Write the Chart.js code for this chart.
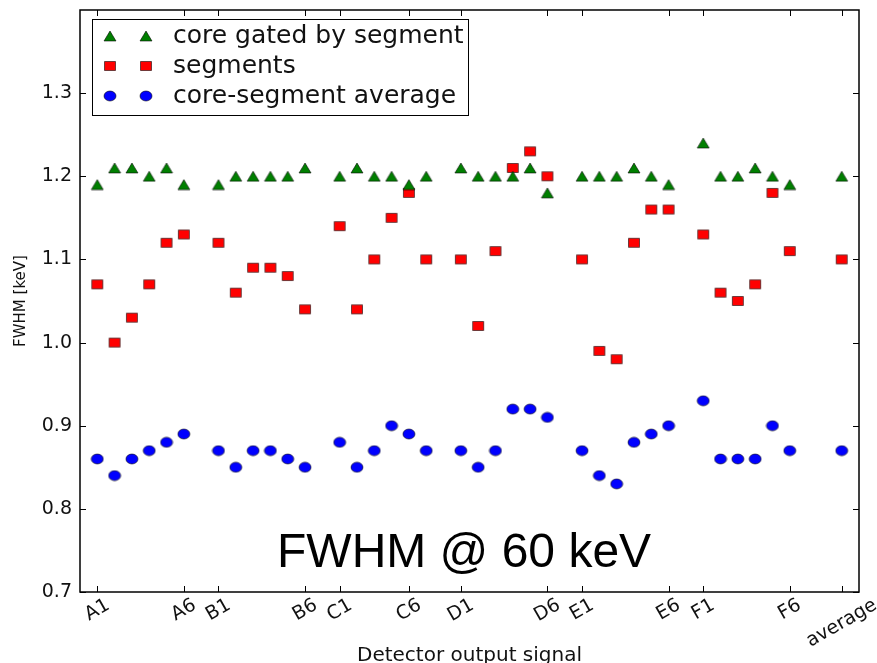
<!DOCTYPE html>
<html>
<head>
<meta charset="utf-8">
<title>FWHM @ 60 keV</title>
<script src="https://cdn.jsdelivr.net/npm/chart.js@4/dist/chart.umd.min.js"></script>
<style>
  html, body { margin: 0; padding: 0; background: #fff; }
  canvas { display: block; }
</style>
</head>
<body>
<canvas id="fwhmChart" width="877" height="663"></canvas>
<script>
// detector channels and where they sit on the x axis
const channels = [
  'A1','A2','A3','A4','A5','A6',
  'B1','B2','B3','B4','B5','B6',
  'C1','C2','C3','C4','C5','C6',
  'D1','D2','D3','D4','D5','D6',
  'E1','E2','E3','E4','E5','E6',
  'F1','F2','F3','F4','F5','F6',
  'average'
]
const channelPos = [
  1, 2, 3, 4, 5, 6,
  8, 9, 10, 11, 12, 13,
  15, 16, 17, 18, 19, 20,
  22, 23, 24, 25, 26, 27,
  29, 30, 31, 32, 33, 34,
  36, 37, 38, 39, 40, 41,
  44
]

// FWHM values in keV
const coreGated = [
  1.19, 1.21, 1.21, 1.20, 1.21, 1.19,
  1.19, 1.20, 1.20, 1.20, 1.20, 1.21,
  1.20, 1.21, 1.20, 1.20, 1.19, 1.20,
  1.21, 1.20, 1.20, 1.20, 1.21, 1.18,
  1.20, 1.20, 1.20, 1.21, 1.20, 1.19,
  1.24, 1.20, 1.20, 1.21, 1.20, 1.19,
  1.20
]
const segments = [
  1.07, 1.00, 1.03, 1.07, 1.12, 1.13,
  1.12, 1.06, 1.09, 1.09, 1.08, 1.04,
  1.14, 1.04, 1.10, 1.15, 1.18, 1.10,
  1.10, 1.02, 1.11, 1.21, 1.23, 1.20,
  1.10, 0.99, 0.98, 1.12, 1.16, 1.16,
  1.13, 1.06, 1.05, 1.07, 1.18, 1.11,
  1.10
]
const coreSegAverage = [
  0.86, 0.84, 0.86, 0.87, 0.88, 0.89,
  0.87, 0.85, 0.87, 0.87, 0.86, 0.85,
  0.88, 0.85, 0.87, 0.90, 0.89, 0.87,
  0.87, 0.85, 0.87, 0.92, 0.92, 0.91,
  0.87, 0.84, 0.83, 0.88, 0.89, 0.90,
  0.93, 0.86, 0.86, 0.86, 0.90, 0.87,
  0.87
]

// labelled x ticks
const xTickPos = [1, 6, 8, 13, 15, 19, 22, 27, 29, 34, 36, 41, 44]
const xTickText = ['A1','A6','B1','B6','C1','C6','D1','D6','E1','E6','F1','F6','average']
const yTicks = [0.7, 0.8, 0.9, 1.0, 1.1, 1.2, 1.3]

const GREEN = '#007f00'
const RED = '#ff0000'
const BLUE = '#0000ff'
const FONT = "'DejaVu Sans', sans-serif"

// small canvases used as marker images
function makeMarker(shape, fill) {
  const c = document.createElement('canvas')
  c.width = 14
  c.height = 12
  const g = c.getContext('2d')
  g.fillStyle = fill
  g.strokeStyle = 'rgba(0,0,0,0.8)'
  g.lineWidth = 0.7
  g.beginPath()
  if (shape === 'triangle') {
    g.moveTo(7, 1)
    g.lineTo(13, 11)
    g.lineTo(1, 11)
    g.closePath()
  } else if (shape === 'square') {
    g.rect(1.5, 1.5, 11, 9)
  } else {
    g.ellipse(7, 6, 6, 5, 0, 0, Math.PI * 2)
  }
  g.fill()
  g.stroke()
  return c
}

const triMark = makeMarker('triangle', GREEN)
const sqMark = makeMarker('square', RED)
const dotMark = makeMarker('circle', BLUE)

function toPoints(values) {
  return values.map((v, i) => ({ x: channelPos[i], y: v }))
}

const legendItems = [
  { label: 'core gated by segment', mark: triMark },
  { label: 'segments', mark: sqMark },
  { label: 'core-segment average', mark: dotMark }
]

// box frame, inward ticks, rotated x labels, legend and the big caption
const decorations = {
  id: 'decorations',
  afterDraw(chart) {
    const ctx = chart.ctx
    const { left, right, top, bottom } = chart.chartArea
    const xs = chart.scales.x
    const ys = chart.scales.y

    ctx.save()
    ctx.strokeStyle = '#000'
    ctx.lineWidth = 1.5
    ctx.strokeRect(left, top, right - left, bottom - top)

    ctx.lineWidth = 1
    ctx.beginPath()
    xTickPos.forEach(p => {
      const px = Math.round(xs.getPixelForValue(p)) + 0.5
      ctx.moveTo(px, bottom)
      ctx.lineTo(px, bottom - 6)
      ctx.moveTo(px, top)
      ctx.lineTo(px, top + 6)
    })
    yTicks.forEach(v => {
      const py = Math.round(ys.getPixelForValue(v)) + 0.5
      ctx.moveTo(left, py)
      ctx.lineTo(left + 6, py)
      ctx.moveTo(right, py)
      ctx.lineTo(right - 6, py)
    })
    ctx.stroke()

    // x tick labels, rotated 30 degrees and centred under the tick
    ctx.fillStyle = '#111'
    ctx.font = '19px ' + FONT
    ctx.textAlign = 'center'
    ctx.textBaseline = 'middle'
    const ang = Math.PI / 6
    xTickPos.forEach((p, i) => {
      const txt = xTickText[i]
      const w = ctx.measureText(txt).width
      const h = 16
      const boxH = w * Math.sin(ang) + h * Math.cos(ang)
      const px = xs.getPixelForValue(p)
      ctx.save()
      ctx.translate(px, bottom + 5 + boxH / 2)
      ctx.rotate(-ang)
      ctx.fillText(txt, 0, 0)
      ctx.restore()
    })

    // legend
    ctx.fillStyle = '#fff'
    ctx.fillRect(92, 19, 376, 96)
    ctx.strokeStyle = '#000'
    ctx.lineWidth = 1
    ctx.strokeRect(92.5, 19.5, 376, 96)
    ctx.font = '25px ' + FONT
    ctx.textAlign = 'left'
    ctx.textBaseline = 'middle'
    legendItems.forEach((it, i) => {
      const y = 36 + i * 30
      ctx.drawImage(it.mark, 110 - 7, y - 6)
      ctx.drawImage(it.mark, 146 - 7, y - 6)
      ctx.fillStyle = '#111'
      ctx.fillText(it.label, 173, y)
    })

    // caption inside the plot
    ctx.fillStyle = '#000'
    ctx.font = "48px 'Liberation Sans', Arial, sans-serif"
    ctx.textAlign = 'left'
    ctx.textBaseline = 'alphabetic'
    ctx.fillText('FWHM @ 60 keV', 277, 567)
    ctx.restore()
  }
}

const ctx = document.getElementById('fwhmChart').getContext('2d')
const fwhmChart = new Chart(ctx, {
  type: 'scatter',
  data: {
    datasets: [
      { label: 'core gated by segment', data: toPoints(coreGated), pointStyle: triMark },
      { label: 'segments', data: toPoints(segments), pointStyle: sqMark },
      { label: 'core-segment average', data: toPoints(coreSegAverage), pointStyle: dotMark }
    ]
  },
  options: {
    responsive: false,
    animation: false,
    devicePixelRatio: 1,
    layout: { padding: { top: 10, right: 18, left: 0, bottom: 0 } },
    plugins: {
      legend: { display: false },
      tooltip: { enabled: false }
    },
    scales: {
      x: {
        type: 'linear',
        min: 0,
        max: 45,
        grid: { display: false, drawTicks: false },
        border: { display: false },
        ticks: { display: false },
        afterBuildTicks: scale => {
          scale.ticks = xTickPos.map(v => ({ value: v }))
        },
        afterFit: scale => {
          scale.height = 71
          scale.paddingLeft = 0
          scale.paddingRight = 0
        },
        title: {
          display: true,
          text: 'Detector output signal',
          color: '#111',
          font: { family: FONT, size: 20, lineHeight: 0.7 },
          padding: 0
        }
      },
      y: {
        min: 0.7,
        max: 1.4,
        grid: { display: false, drawTicks: false },
        border: { display: false },
        afterBuildTicks: scale => {
          scale.ticks = yTicks.map(v => ({ value: v }))
        },
        afterFit: scale => {
          scale.width = 80
          scale.paddingTop = 0
          scale.paddingBottom = 0
        },
        ticks: {
          color: '#111',
          padding: 8,
          font: { family: FONT, size: 19 },
          callback: v => v.toFixed(1)
        },
        title: {
          display: true,
          text: 'FWHM [keV]',
          color: '#111',
          font: { family: FONT, size: 15, lineHeight: 1 },
          padding: { top: 14 }
        }
      }
    }
  },
  plugins: [decorations]
})
</script>
</body>
</html>
